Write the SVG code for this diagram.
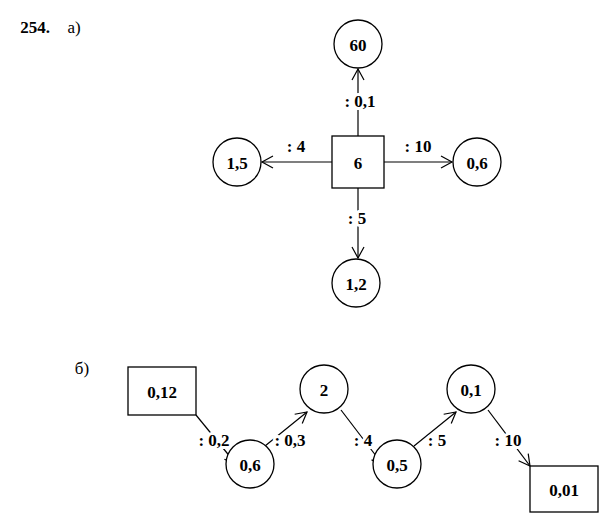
<svg xmlns="http://www.w3.org/2000/svg" width="615" height="525" viewBox="0 0 615 525">
<style>
.n{fill:#fff;stroke:#000;stroke-width:1.3}
text{font-family:"Liberation Serif",serif;font-size:17px;font-weight:bold;fill:#000;text-anchor:middle;dominant-baseline:central}
.c text{stroke:#fff;stroke-width:6px;paint-order:stroke;stroke-linejoin:round}
.c line{stroke:#000;stroke-width:1.2;marker-end:url(#a)}
</style>
<defs><marker id="a" markerWidth="14" markerHeight="14" refX="12" refY="7" orient="auto" markerUnits="userSpaceOnUse"><path d="M1,1 L12,7 L1,13" fill="none" stroke="#000" stroke-width="1.2"/></marker></defs>
<rect width="615" height="525" fill="#fff"/>
<text x="35" y="27">254.</text><text x="74" y="27" style="font-weight:normal">а)</text>
<text x="82" y="368" style="font-weight:normal">б)</text>
<g class="c">
<line x1="358" y1="136" x2="358" y2="69"/>
<line x1="332" y1="162" x2="262" y2="162"/>
<line x1="384" y1="162" x2="452" y2="162"/>
<line x1="358" y1="188" x2="358" y2="258"/>
<line x1="196" y1="415" x2="236" y2="464"/>
<line x1="265" y1="446" x2="307" y2="412"/>
<line x1="341" y1="410" x2="383" y2="465"/>
<line x1="414" y1="446" x2="456" y2="412"/>
<line x1="488" y1="410" x2="530" y2="466"/>
<text x="360" y="101">: 0,1</text><text x="296" y="146">: 4</text><text x="418" y="146">: 10</text><text x="357" y="218">: 5</text>
<text x="214" y="440">: 0,2</text><text x="290" y="440">: 0,3</text><text x="363" y="440">: 4</text><text x="437" y="440">: 5</text><text x="508" y="440">: 10</text>
</g>
<g id="n6"><rect class="n" x="332" y="136" width="52" height="52"/><text x="358" y="163">6</text></g>
<g id="n60"><circle class="n" cx="358" cy="44" r="24"/><text x="358" y="45">60</text></g>
<g id="n15"><circle class="n" cx="237" cy="162" r="24"/><text x="237" y="163">1,5</text></g>
<g id="n06a"><circle class="n" cx="477" cy="162" r="24"/><text x="477" y="163">0,6</text></g>
<g id="n12"><circle class="n" cx="356" cy="283" r="24"/><text x="356" y="284">1,2</text></g>
<g id="n012"><rect class="n" x="128" y="367" width="68" height="48"/><text x="162" y="392">0,12</text></g>
<g id="n06b"><circle class="n" cx="250" cy="464" r="24"/><text x="250" y="465">0,6</text></g>
<g id="n2"><circle class="n" cx="324" cy="389" r="24"/><text x="324" y="390">2</text></g>
<g id="n05"><circle class="n" cx="397" cy="464" r="24"/><text x="397" y="465">0,5</text></g>
<g id="n01"><circle class="n" cx="471" cy="389" r="24"/><text x="471" y="390">0,1</text></g>
<g id="n001"><rect class="n" x="530" y="466" width="68" height="46"/><text x="564" y="490">0,01</text></g>
</svg>
